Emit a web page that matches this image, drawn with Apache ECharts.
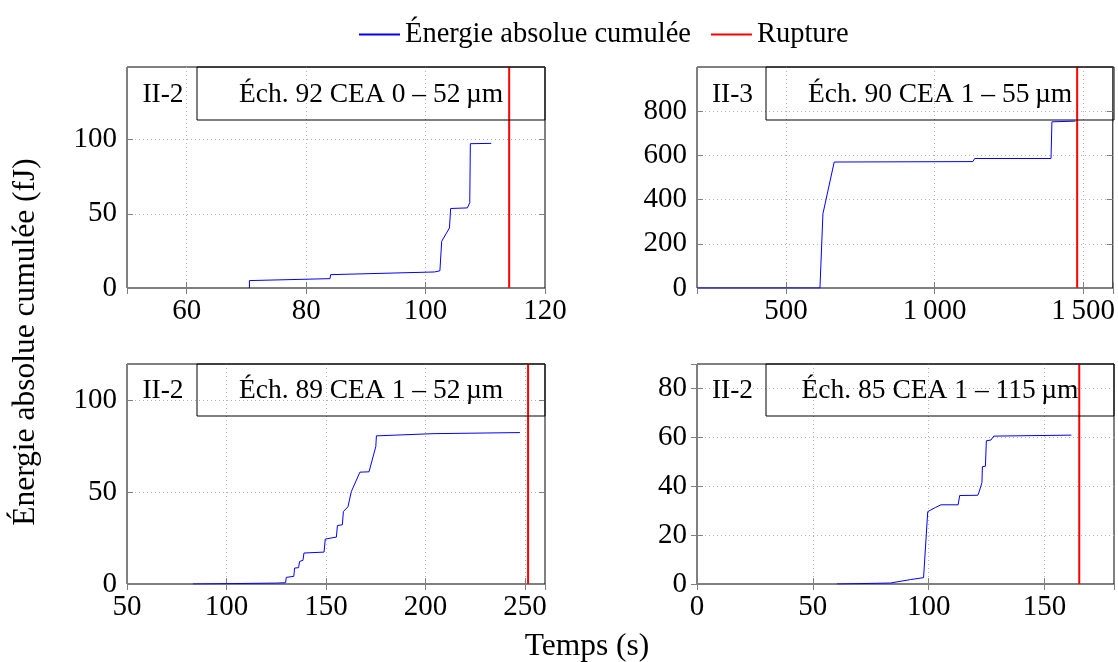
<!DOCTYPE html>
<html><head><meta charset="utf-8">
<script src="https://cdn.jsdelivr.net/npm/echarts@6/dist/echarts.min.js"></script>
<style>html,body{margin:0;padding:0;background:#fff}#c{width:1118px;height:662px}</style>
</head><body><div id="c"></div>
<script>
const FONT = '"Liberation Serif", "DejaVu Serif", serif';
const FS_TICK = 29;
const FS_BOX = 27.5;
const FS_LEGEND = 28.5;
const FS_TITLE = 31.5;

// Éch. 92 CEA (II-2)
const ech92Time   = [70.5, 70.5, 84.0, 84.1, 101.5, 102.4, 102.7, 104.0, 104.2, 107.0, 107.4, 107.5, 111.0];
const ech92Energy = [0, 5.0, 6.3, 9.0, 10.8, 11.6, 31.5, 40.5, 53.6, 54.0, 57.5, 97.3, 97.5];
// Éch. 90 CEA (II-3)
const ech90Time   = [200, 614, 624, 662, 1129, 1135, 1392, 1395, 1474];
const ech90Energy = [0, 0, 336, 570, 572, 586, 586, 752, 755];
// Éch. 89 CEA (II-2)
const ech89Time   = [83.2, 125, 129.7, 130, 133.8, 134.2, 136.2, 136.7, 138.4, 138.9, 149, 149.6, 155.2, 155.7, 158.2, 158.7, 161, 162.7, 167, 171.6, 175, 175.3, 203.8, 247.4];
const ech89Energy = [0, 0.5, 0.7, 3.6, 4.2, 8.7, 8.9, 12.3, 12.9, 16.9, 17.4, 24.5, 25.6, 31.9, 32.3, 39.5, 42.1, 50.4, 61, 61.2, 75, 80.8, 82, 82.6];
// Éch. 85 CEA (II-2)
const ech85Time   = [60.4, 83.5, 84.2, 92.1, 92.5, 97.8, 99.6, 100.4, 102.9, 105.3, 112.7, 113.4, 121.2, 121.8, 123.0, 123.2, 124.5, 124.9, 126.9, 128.1, 161.6];
const ech85Energy = [0, 0.4, 1.2, 1.8, 2.3, 2.6, 29.6, 30.3, 31.3, 32.4, 32.4, 36.2, 36.3, 37.7, 41.5, 48.0, 48.2, 58.6, 58.9, 60.5, 60.9];

const ruptureTimes = [114, 1480, 251.5, 165];
const panelGroups  = ['II-2', 'II-3', 'II-2', 'II-2'];
const panelSamples = ['Éch. 92 CEA 0 – 52\u2009µm', 'Éch. 90 CEA 1 – 55\u2009µm', 'Éch. 89 CEA 1 – 52\u2009µm', 'Éch. 85 CEA 1 – 115\u2009µm'];

const xMins  = [50, 200, 50, 0];
const xMaxs  = [120, 1600, 260, 180];
const xSteps = [20, 500, 50, 50];
const yMaxs  = [149, 1000, 120, 90];
const ySteps = [50, 200, 50, 20];

const times = [ech92Time, ech90Time, ech89Time, ech85Time];
const energies = [ech92Energy, ech90Energy, ech89Energy, ech85Energy];

// layout
const gridBoxes = [
  {left: 127, top: 67, width: 418, height: 221},
  {left: 697, top: 67, width: 417, height: 221},
  {left: 127, top: 364, width: 418, height: 220},
  {left: 697, top: 364, width: 417, height: 220}
];
const boxLefts = [197, 766, 197, 766];
const boxHeights = [53, 53, 52, 52];

function fmtNum(v) {
  if (Math.abs(v) >= 1000) {
    const s = String(v);
    return s.slice(0, s.length - 3) + '\u2009' + s.slice(s.length - 3);
  }
  return String(v);
}

const grid = [], xAxis = [], yAxis = [], series = [], graphic = [];
const tickStyle = {show: true, inside: true, length: 6, lineStyle: {color: '#808080', width: 1}};
const splitStyle = {show: true, showMinLine: false, showMaxLine: false, lineStyle: {color: '#b4b4b4', type: [1, 3], width: 1}};

for (let i = 0; i < 4; i++) {
  const g = gridBoxes[i];
  grid.push({left: g.left, top: g.top, width: g.width, height: g.height, show: true,
    borderColor: '#000', borderWidth: 1, backgroundColor: 'transparent', containLabel: false});
  const xs = xSteps[i], ys = ySteps[i], ymax = yMaxs[i];
  const xCommon = {type: 'value', gridIndex: i, min: xMins[i], max: xMaxs[i]};
  if (xMins[i] % xs === 0) xCommon.interval = xs;
  else xCommon.splitNumber = Math.round((xMaxs[i] - xMins[i]) / xs);
  xAxis.push(Object.assign({}, xCommon, {
    position: 'bottom', axisLine: {show: false}, axisTick: tickStyle, splitLine: splitStyle,
    axisLabel: {show: true, margin: 9, color: '#000', fontFamily: FONT, fontSize: FS_TICK,
      formatter: v => (Math.abs(v % xs) < 1e-9 ? fmtNum(v) : '')}
  }));
  xAxis.push(Object.assign({}, xCommon, {
    position: 'top', axisLine: {show: false}, axisTick: tickStyle, splitLine: {show: false},
    axisLabel: {show: false}
  }));
  const yCommon = {type: 'value', gridIndex: i, min: 0, max: ymax, interval: ys};
  yAxis.push(Object.assign({}, yCommon, {
    position: 'left', axisLine: {show: false}, axisTick: tickStyle, splitLine: splitStyle,
    axisLabel: {show: true, margin: 10, color: '#000', fontFamily: FONT, fontSize: FS_TICK,
      formatter: v => (Math.abs(v % ys) < 1e-9 && v < ymax - 1e-9 ? fmtNum(v) : '')}
  }));
  yAxis.push(Object.assign({}, yCommon, {
    position: 'right', axisLine: {show: false}, axisTick: tickStyle, splitLine: {show: false},
    axisLabel: {show: false}
  }));
  series.push({
    name: 'Énergie absolue cumulée', type: 'line', xAxisIndex: 2 * i, yAxisIndex: 2 * i,
    data: times[i].map((t, k) => [t, energies[i][k]]),
    symbol: 'none', lineStyle: {color: '#0000ff', width: 1}, itemStyle: {color: '#0000ff'},
    animation: false, z: 5
  });
  series.push({
    name: 'Rupture', type: 'line', xAxisIndex: 2 * i, yAxisIndex: 2 * i,
    data: [[ruptureTimes[i], 0], [ruptureTimes[i], ymax]],
    symbol: 'none', lineStyle: {color: '#ff0000', width: 2}, itemStyle: {color: '#ff0000'},
    animation: false, z: 6
  });
  // annotation box
  const right = g.left + g.width;
  graphic.push({type: 'rect', z: 10, shape: {x: boxLefts[i], y: g.top, width: right - boxLefts[i], height: boxHeights[i]},
    style: {fill: 'none', stroke: '#000', lineWidth: 1}});
  graphic.push({type: 'text', z: 11, x: (boxLefts[i] + right) / 2, y: g.top + boxHeights[i] / 2 + 1,
    style: {text: panelSamples[i], font: FS_BOX + 'px ' + FONT, fill: '#000', align: 'center', verticalAlign: 'middle', textAlign: 'center', textVerticalAlign: 'middle'}});
  graphic.push({type: 'text', z: 11, x: (g.left + boxLefts[i]) / 2 + 1, y: g.top + boxHeights[i] / 2 + 1,
    style: {text: panelGroups[i], font: FS_BOX + 'px ' + FONT, fill: '#000', align: 'center', verticalAlign: 'middle', textAlign: 'center', textVerticalAlign: 'middle'}});
}

graphic.push({type: 'text', x: 587, y: 647,
  style: {text: 'Temps (s)', font: FS_TITLE + 'px ' + FONT, fill: '#000', align: 'center', verticalAlign: 'middle', textAlign: 'center', textVerticalAlign: 'middle'}});
graphic.push({type: 'text', x: 26, y: 342, rotation: Math.PI / 2,
  style: {text: 'Énergie absolue cumulée (fJ)', font: FS_TITLE + 'px ' + FONT, fill: '#000', align: 'center', verticalAlign: 'middle', textAlign: 'center', textVerticalAlign: 'middle'}});

const chart = echarts.init(document.getElementById('c'));
chart.setOption({
  animation: false,
  backgroundColor: '#fff',
  legend: {
    data: [
      {name: 'Énergie absolue cumulée', icon: 'rect'},
      {name: 'Rupture', icon: 'rect'}
    ],
    left: 354, top: 15, itemWidth: 41, itemHeight: 2, itemGap: 20,
    textStyle: {fontFamily: FONT, fontSize: FS_LEGEND, color: '#000', padding: [0, 0, 0, 0]}
  },
  grid, xAxis, yAxis, series, graphic
});
</script>
</body></html>
